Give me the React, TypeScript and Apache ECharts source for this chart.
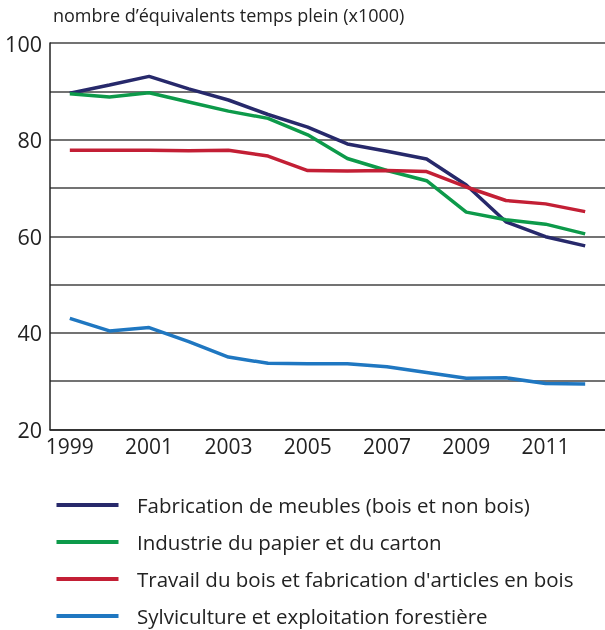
import React, { useEffect, useRef } from "react";
import * as echarts from "echarts";

const years = ["1999","2000","2001","2002","2003","2004","2005","2006","2007","2008","2009","2010","2011","2012"];
const meubles = [89.6, 91.3, 93.1, 90.5, 88.2, 85.2, 82.6, 79.1, 77.6, 76.0, 70.6, 63.0, 59.9, 58.0];
const papier = [89.5, 88.8, 89.7, 87.8, 85.9, 84.4, 81.0, 76.1, 73.6, 71.5, 65.0, 63.4, 62.5, 60.5];
const bois = [77.8, 77.8, 77.8, 77.7, 77.8, 76.6, 73.6, 73.5, 73.6, 73.4, 70.2, 67.4, 66.7, 65.1];
const sylvi = [43.0, 40.4, 41.1, 38.2, 35.0, 33.7, 33.6, 33.6, 33.0, 31.8, 30.6, 30.7, 29.5, 29.4];
const names = [
  "Fabrication de meubles (bois et non bois)",
  "Industrie du papier et du carton",
  "Travail du bois et fabrication d'articles en bois",
  "Sylviculture et exploitation forestière",
];
const colors = ["#27296b", "#0d9a4a", "#c31f35", "#1f77c1"];
const yTitle = "nombre d’équivalents temps plein (x1000)";

export default function App() {
  const ref = useRef<HTMLDivElement>(null);
  useEffect(() => {
    const chart = echarts.init(ref.current!, null, { renderer: "svg" });
    const font = "'Open Sans', 'Noto Sans', sans-serif";
    const data = [meubles, papier, bois, sylvi];
    chart.setOption({
      animation: false,
      textStyle: { fontFamily: font },
      graphic: [
        {
          type: "text",
          left: 53,
          top: 6,
          style: { text: yTitle, fontSize: 18, fill: "#222", fontFamily: font },
        },
      ],
      grid: { left: 50, top: 43, width: 557, height: 386.5, containLabel: false },
      legend: {
        orient: "vertical",
        left: 51.5,
        top: 489,
        height: 140,
        itemWidth: 62,
        itemHeight: 4,
        itemGap: 15,
        icon: "rect",
        data: names,
        textStyle: { fontSize: 20.5, color: "#222", padding: [0, 0, 0, 13.5], lineHeight: 22, fontFamily: font },
      },
      xAxis: {
        type: "category",
        data: years,
        boundaryGap: true,
        axisLine: { lineStyle: { color: "#222", width: 1.5 } },
        axisTick: { inside: true, length: 11, alignWithLabel: true, interval: 0, lineStyle: { color: "#222", width: 1.5 } },
        axisLabel: { interval: 1, fontSize: 21, color: "#222", margin: 6 },
        splitLine: { show: false },
      },
      yAxis: {
        type: "value",
        min: 20,
        max: 100,
        interval: 10,
        axisLine: { show: true, lineStyle: { color: "#222", width: 1.5 } },
        axisTick: { show: false },
        axisLabel: {
          fontSize: 21.5,
          color: "#222",
          margin: 8,
          formatter: (v: number) => (v % 20 === 0 ? String(v) : ""),
        },
        splitLine: { lineStyle: { color: "#444", width: 1.5 } },
      },
      series: names.map((n, i) => ({
        name: n,
        type: "line",
        data: data[i],
        symbol: "none",
        color: colors[i],
        lineStyle: { width: 3.5, color: colors[i] },
      })),
    });
    return () => chart.dispose();
  }, []);
  return <div ref={ref} style={{ position: "fixed", left: 0, top: 0, width: 605, height: 630 }} />;
}
